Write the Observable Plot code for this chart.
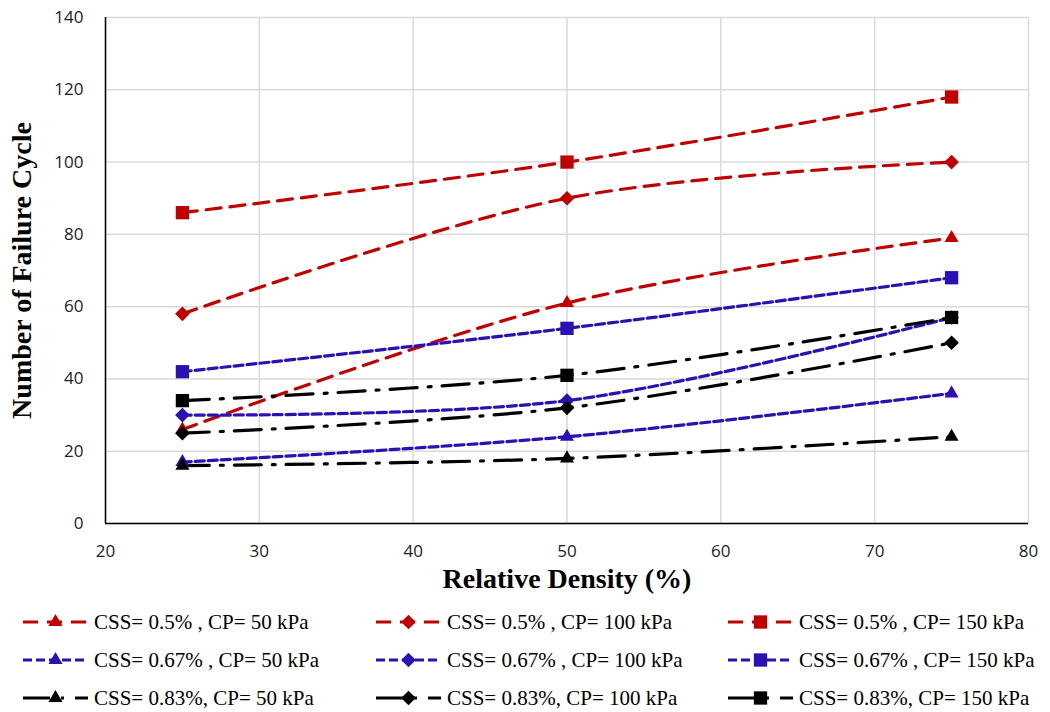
<!DOCTYPE html>
<html>
<head>
<meta charset="utf-8">
<script src="https://cdn.jsdelivr.net/npm/d3@7"></script>
<script src="https://cdn.jsdelivr.net/npm/@observablehq/plot@0.6"></script>
<style>
  body { margin: 0; background: #fff; }
  #chart { width: 1050px; }
  #legend {
    position: relative;
    width: 1050px;
    height: 112px;
    font-family: "Liberation Serif", "Times New Roman", serif;
    font-size: 21px;
    color: #000;
  }
  .item { position: absolute; display: flex; align-items: center; height: 30px; white-space: nowrap; }
  .item svg { margin-right: 6px; }
</style>
</head>
<body>
<div id="chart"></div>
<div id="legend"></div>
<script>
// Relative density (%) at which each test was run
const density = [25, 50, 75];

// Number of cycles to failure, one array per cyclic stress / confining pressure pair
const css050_cp50  = [26, 61, 79];
const css050_cp100 = [58, 90, 100];
const css050_cp150 = [86, 100, 118];
const css067_cp50  = [17, 24, 36];
const css067_cp100 = [30, 34, 57];
const css067_cp150 = [42, 54, 68];
const css083_cp50  = [16, 18, 24];
const css083_cp100 = [25, 32, 50];
const css083_cp150 = [34, 41, 57];

const seriesLabels = [
  "CSS= 0.5% , CP= 50 kPa", "CSS= 0.5% , CP= 100 kPa", "CSS= 0.5% , CP= 150 kPa",
  "CSS= 0.67% , CP= 50 kPa", "CSS= 0.67% , CP= 100 kPa", "CSS= 0.67% , CP= 150 kPa",
  "CSS= 0.83%, CP= 50 kPa", "CSS= 0.83%, CP= 100 kPa", "CSS= 0.83%, CP= 150 kPa"
];
const seriesValues = [
  css050_cp50, css050_cp100, css050_cp150,
  css067_cp50, css067_cp100, css067_cp150,
  css083_cp50, css083_cp100, css083_cp150
];

const xTicks = [20, 30, 40, 50, 60, 70, 80];
const yTicks = [0, 20, 40, 60, 80, 100, 120, 140];

// Line style per stress level, marker per confining pressure
const RED = "#C00000", BLUE = "#2B10B6", BLACK = "#000000";
const stressStyles = [
  {stroke: RED, dash: "15,9"},
  {stroke: BLUE, dash: "9,4"},
  {stroke: BLACK, dash: "27,11,3,11"}
];
const pressureMarkers = [
  {symbol: "triangle", r: 5.2},
  {symbol: "diamond2", r: 6.6},
  {symbol: "square", r: 7.5}
];

const series = seriesLabels.map((label, i) => ({
  label,
  style: stressStyles[Math.floor(i / 3)],
  marker: pressureMarkers[i % 3],
  rows: density.map((d, j) => ({density: d, cycles: seriesValues[i][j]}))
}));

const tickFont = {fontFamily: "'Open Sans', Lato, sans-serif", fontSize: 17, fill: "#222"};
const titleFont = {fontFamily: "'Liberation Serif', 'Times New Roman', serif", fontSize: 28, fontWeight: "bold", fill: "#000"};

const marks = [
  Plot.gridX(xTicks, {stroke: "#d9d9d9", strokeOpacity: 1, strokeWidth: 1.5}),
  Plot.gridY(yTicks, {stroke: "#d9d9d9", strokeOpacity: 1, strokeWidth: 1.5}),
  Plot.ruleX([20], {stroke: "#000", strokeWidth: 1.5}),
  Plot.ruleY([0], {stroke: "#000", strokeWidth: 1.5}),
  Plot.axisX(xTicks, {tickSize: 0, tickPadding: 21, ...tickFont, label: null}),
  Plot.axisY(yTicks, {tickSize: 0, tickPadding: 22, ...tickFont, label: null}),
  Plot.text(["Relative Density (%)"], {frameAnchor: "bottom", dy: 56, lineAnchor: "middle", textAnchor: "middle", ...titleFont}),
  Plot.text(["Number of Failure Cycle"], {frameAnchor: "left", dx: -83, rotate: -90, lineAnchor: "middle", textAnchor: "middle", ...titleFont})
];

for (const s of series) {
  marks.push(Plot.line(s.rows, {
    x: "density", y: "cycles", curve: "catmull-rom",
    stroke: s.style.stroke, strokeWidth: 3.2, strokeDasharray: s.style.dash
  }));
}
for (const s of series) {
  marks.push(Plot.dot(s.rows, {
    x: "density", y: "cycles", symbol: () => s.marker.symbol, r: s.marker.r,
    fill: s.style.stroke, stroke: "none"
  }));
}

const chart = Plot.plot({
  width: 1050,
  height: 600,
  marginTop: 17,
  marginBottom: 77,
  marginLeft: 105,
  marginRight: 22,
  x: {domain: [20, 80], label: null},
  y: {domain: [0, 140], label: null},
  symbol: {type: "identity"},
  marks
});
document.getElementById("chart").appendChild(chart);

// Legend: three columns, one row per stress level
const legend = document.getElementById("legend");
const colLeft = [23, 376, 728];
const rowTop = [7, 45, 83];
series.forEach((s, i) => {
  const item = document.createElement("div");
  item.className = "item";
  item.style.left = colLeft[i % 3] + "px";
  item.style.top = rowTop[Math.floor(i / 3)] + "px";
  const ns = "http://www.w3.org/2000/svg";
  const svg = document.createElementNS(ns, "svg");
  svg.setAttribute("width", 65);
  svg.setAttribute("height", 20);
  const line = document.createElementNS(ns, "line");
  line.setAttribute("x1", 0); line.setAttribute("x2", 65);
  line.setAttribute("y1", 10); line.setAttribute("y2", 10);
  line.setAttribute("stroke", s.style.stroke);
  line.setAttribute("stroke-width", 3.2);
  line.setAttribute("stroke-dasharray", s.style.dash);
  svg.appendChild(line);
  const sym = {triangle: d3.symbolTriangle, diamond2: d3.symbolDiamond2, square: d3.symbolSquare}[s.marker.symbol];
  const path = document.createElementNS(ns, "path");
  path.setAttribute("d", d3.symbol(sym, s.marker.r * s.marker.r * Math.PI)());
  path.setAttribute("transform", "translate(32.5,10)");
  path.setAttribute("fill", s.style.stroke);
  svg.appendChild(path);
  item.appendChild(svg);
  const text = document.createElement("span");
  text.textContent = s.label;
  item.appendChild(text);
  legend.appendChild(item);
});
</script>
</body>
</html>
